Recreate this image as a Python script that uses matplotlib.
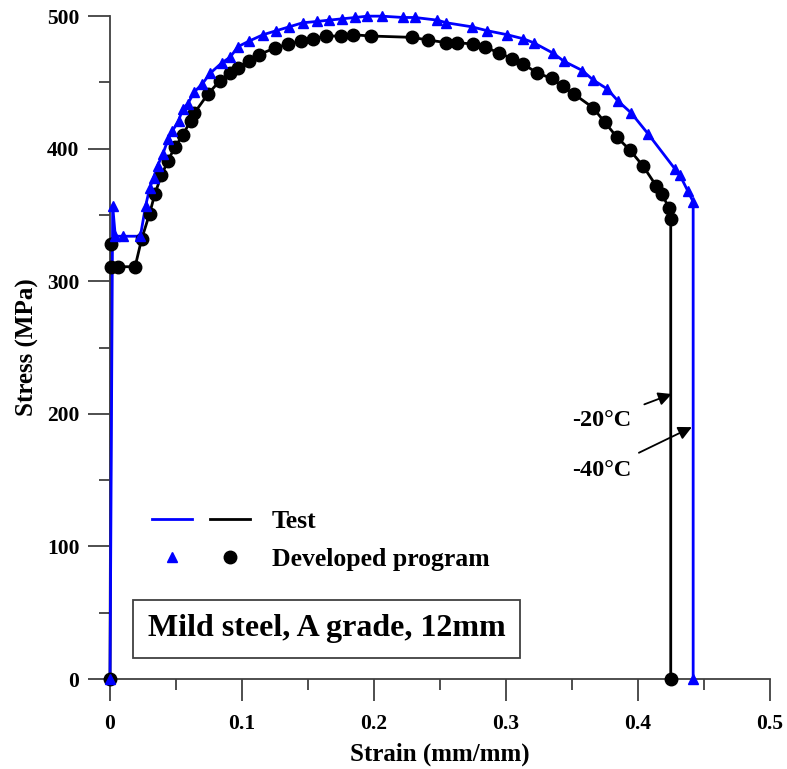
import numpy as np
import matplotlib.pyplot as plt
from matplotlib.legend_handler import HandlerTuple

plt.rcParams['font.family'] = 'Liberation Serif'
plt.rcParams['font.weight'] = 'bold'

# -20 C (black): test curve and developed program points
strain_20 = [0, 0.001, 0.001, 0.006, 0.019, 0.024, 0.030, 0.034, 0.039, 0.044,
             0.049, 0.055, 0.061, 0.064, 0.074, 0.083, 0.091, 0.097, 0.105, 0.113,
             0.125, 0.135, 0.145, 0.154, 0.164, 0.175, 0.184, 0.198, 0.229, 0.241,
             0.255, 0.263, 0.275, 0.284, 0.295, 0.305, 0.313, 0.324, 0.335, 0.343,
             0.352, 0.366, 0.375, 0.384, 0.394, 0.404, 0.414, 0.418, 0.424, 0.425,
             0.425]
stress_20 = [0, 328, 311, 311, 311, 332, 351, 366, 380, 391,
             401, 410, 421, 427, 441, 451, 457, 461, 466, 471,
             476, 479, 481, 483, 485, 485, 486, 485, 484, 482,
             480, 480, 479, 477, 472, 468, 464, 457, 453, 447,
             441, 431, 420, 409, 399, 387, 372, 366, 355, 347,
             0]

# -40 C (blue)
strain_40 = [0, 0.002, 0.004, 0.010, 0.023, 0.027, 0.030, 0.033, 0.036, 0.040,
             0.044, 0.047, 0.052, 0.055, 0.059, 0.064, 0.070, 0.076, 0.085, 0.091,
             0.097, 0.105, 0.116, 0.126, 0.136, 0.146, 0.157, 0.166, 0.176, 0.186,
             0.195, 0.206, 0.222, 0.231, 0.248, 0.255, 0.274, 0.286, 0.301, 0.313,
             0.321, 0.336, 0.344, 0.358, 0.366, 0.377, 0.385, 0.395, 0.408, 0.428,
             0.432, 0.438, 0.442, 0.442]
stress_40 = [0, 357, 334, 334, 334, 357, 370, 378, 387, 396,
             407, 413, 421, 430, 434, 443, 449, 457, 465, 469,
             477, 481, 486, 489, 492, 495, 496, 497, 498, 499,
             500, 500, 499, 499, 497, 495, 492, 489, 486, 483,
             480, 472, 466, 459, 452, 445, 436, 427, 411, 385,
             380, 368, 360, 0]

fig = plt.figure(figsize=(7.87, 7.69), dpi=100)
ax = fig.add_axes([0.1398, 0.117, 0.8382, 0.862])

l40, = ax.plot(strain_40, stress_40, color='blue', lw=2, zorder=3)
l20, = ax.plot(strain_20, stress_20, color='black', lw=2, zorder=2)
m40, = ax.plot(strain_40, stress_40, ls='none', marker='^', color='blue', ms=7.5, zorder=4)
m20, = ax.plot(strain_20, stress_20, ls='none', marker='o', color='black', ms=9, zorder=3)

ax.set_xlim(0, 0.5)
ax.set_ylim(0, 500)
ax.set_xticks(np.arange(0, 0.51, 0.1))
ax.set_xticks(np.arange(0.05, 0.5, 0.1), minor=True)
ax.set_yticks(np.arange(0, 501, 100))
ax.set_yticks(np.arange(50, 500, 100), minor=True)
ax.set_xticklabels(['0', '0.1', '0.2', '0.3', '0.4', '0.5'])
for ln in (l40, l20, m40, m20):
    ln.set_clip_on(False)

for s in ('top', 'right'):
    ax.spines[s].set_visible(False)
for s in ('left', 'bottom'):
    ax.spines[s].set_color('#404040')
    ax.spines[s].set_linewidth(1.3)

ax.tick_params(which='major', direction='out', length=16, width=1.3, color='#404040',
               labelsize=15.5, pad=6)
ax.tick_params(which='minor', direction='out', length=8, width=1.3, color='#404040')
ax.tick_params(axis='x', which='major', pad=9)

ax.set_xlabel('Strain (mm/mm)', fontsize=18, fontweight='bold', labelpad=6)
ax.set_ylabel('Stress (MPa)', fontsize=18, fontweight='bold', labelpad=6)

ax.legend([(l40, l20), (m40, m20)], ['Test', 'Developed program'],
          handler_map={tuple: HandlerTuple(ndivide=None, pad=0.7)},
          loc='upper left', bbox_to_anchor=(0.064, 0.255), frameon=False,
          fontsize=18.5, handlelength=3.8, handletextpad=0.85, labelspacing=0.6,
          borderpad=0, borderaxespad=0)

ax.annotate('-20°C', xy=(0.4258, 215), xytext=(0.395, 195),
            fontsize=17.5, fontweight='bold', ha='right', va='center',
            arrowprops=dict(arrowstyle='-|>', color='black', lw=1.3,
                            mutation_scale=20, shrinkA=8, shrinkB=0))
ax.annotate('-40°C', xy=(0.441, 190), xytext=(0.395, 157),
            fontsize=17.5, fontweight='bold', ha='right', va='center',
            arrowprops=dict(arrowstyle='-|>', color='black', lw=1.3,
                            mutation_scale=20, shrinkA=8, shrinkB=0))

ax.text(0.164, 38, 'Mild steel, A grade, 12mm', fontsize=23, fontweight='bold',
        ha='center', va='center',
        bbox=dict(boxstyle='square,pad=0.45', fc='white', ec='#404040', lw=1.3))

fig.savefig('out.png', dpi=100)
